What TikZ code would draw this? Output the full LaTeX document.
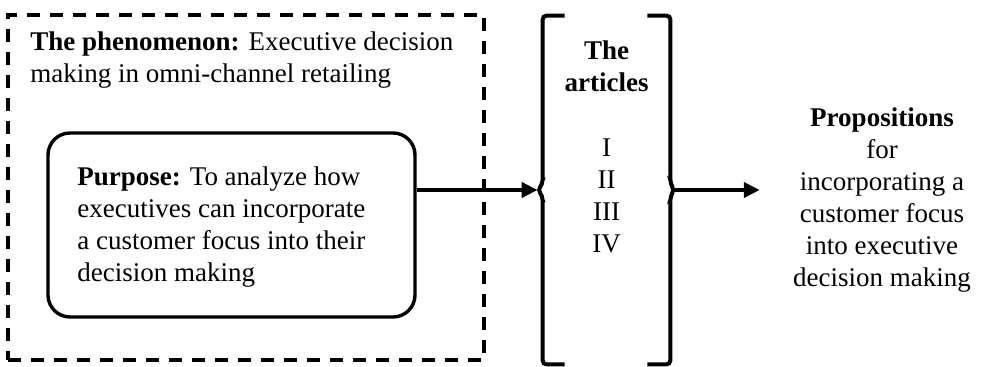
\documentclass[tikz,border=0pt]{standalone}
\usepackage{fontspec}
\setmainfont{Liberation Serif}
\usetikzlibrary{positioning,arrows.meta}

\tikzset{
  txt/.style={font=\fontsize{13.5}{16}\selectfont, inner sep=0pt},
  framebox/.style={draw, line width=2pt, dash pattern=on 6.5pt off 5pt},
  purposebox/.style={draw, line width=1.7pt, rounded corners=11pt},
  bracket/.style={line width=2pt, rounded corners=2pt},
  thickarrow/.style={line width=2.2pt, -{Triangle[length=8pt,width=7.5pt]}},
}

\begin{document}
\begin{tikzpicture}[x=0.5pt,y=-0.5pt]
\useasboundingbox (0,0) rectangle (984,367);

% the phenomenon (dashed frame)
\node[framebox, minimum width=238pt, minimum height=172.5pt] (frame) at (245.5,187.5) {};
\node[txt, anchor=base west, align=left] (phenomenon) at (30,83)
  {\textbf{The phenomenon:} Executive decision\\making in omni-channel retailing};

% purpose
\node[purposebox, minimum width=183.5pt, minimum height=92pt] (purpose) at (231.5,225) {};
\node[txt, anchor=base west, align=left] (purposetext) at (77,282)
  {\textbf{Purpose:} To analyze how\\executives can incorporate\\a customer focus into their\\decision making};

% the articles
\node[minimum width=63.5pt, minimum height=174pt, inner sep=0pt] (articles) at (606.5,190) {};
\node[txt, align=center, anchor=base] (articlestitle) at (606.5,92) {\textbf{The}\\\textbf{articles}};
\node[txt, align=center, anchor=base] (numerals) at (606.5,253) {I\\II\\III\\IV};
\coordinate (lcusp) at ([xshift=-2.5pt]articles.west);
\coordinate (rcusp) at ([xshift=2pt]articles.east);
\draw[bracket] ([xshift=11pt]articles.north west) -- (articles.north west) -- ([yshift=3pt]articles.west)
  -- (lcusp) -- ([yshift=-3pt]articles.west) -- (articles.south west) -- ([xshift=11pt]articles.south west);
\draw[bracket] ([xshift=-11.5pt]articles.north east) -- (articles.north east) -- ([yshift=3pt]articles.east)
  -- (rcusp) -- ([yshift=-3pt]articles.east) -- (articles.south east) -- ([xshift=-11.5pt]articles.south east);

% propositions
\node[txt, align=center, anchor=base] (propositions) at (882,287)
  {\textbf{Propositions}\\for\\incorporating a\\customer focus\\into executive\\decision making};

% arrows
\draw[thickarrow] (purpose.east |- lcusp) -- (lcusp);
\draw[thickarrow, shorten >=16.5pt] (rcusp) -- (propositions.west |- rcusp);
\end{tikzpicture}
\end{document}
